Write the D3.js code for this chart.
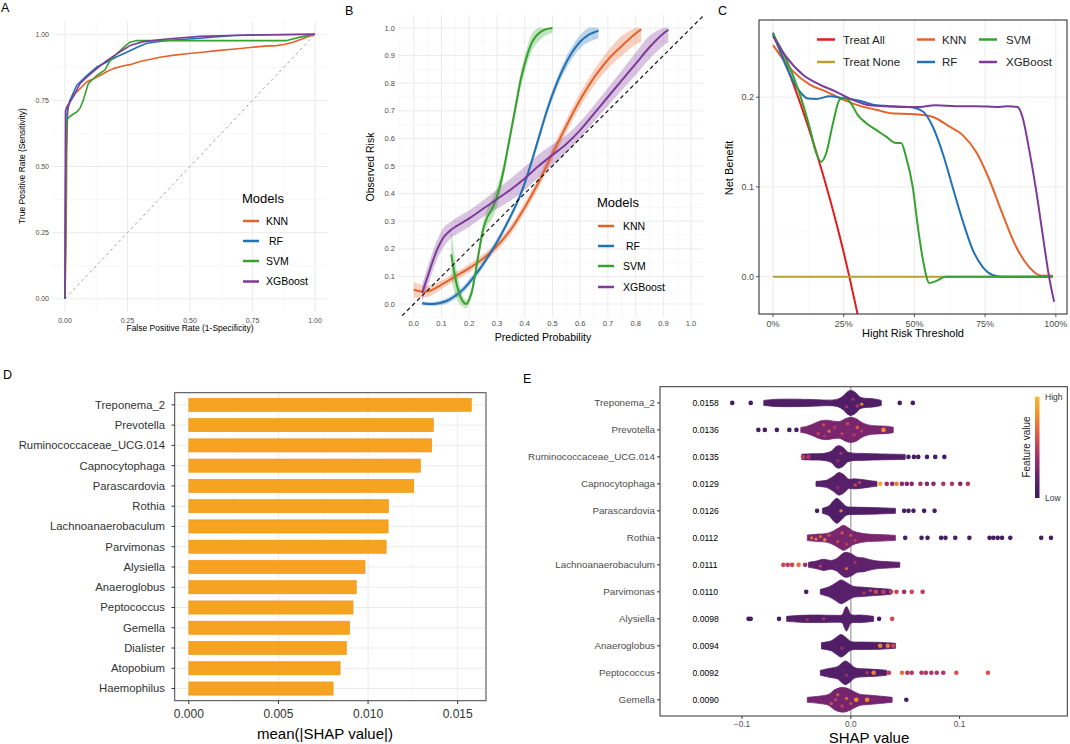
<!DOCTYPE html>
<html>
<head>
<meta charset="utf-8">
<title>Model comparison panels</title>
<script src="https://cdn.jsdelivr.net/npm/d3@7"></script>
<style>
  body { margin: 0; background: #fff; }
  svg { font-family: "Liberation Sans", Arial, sans-serif; }
</style>
</head>
<body>
<svg id="fig" width="1070" height="744"></svg>
<script>
// ---------- data ----------
var models = ["KNN", "RF", "SVM", "XGBoost"];
var modelColors = {KNN: "#E5632B", RF: "#2271B5", SVM: "#35A22E", XGBoost: "#7E3A9A"};

// A: ROC curves [fpr, tpr]
var rocKNN = [[0,0],[0.004,0.2],[0.007,0.55],[0.01,0.7],[0.015,0.73],[0.027,0.763],[0.045,0.78],[0.06,0.794],[0.087,0.82],[0.11,0.83],[0.14,0.844],[0.17,0.86],[0.193,0.87],[0.23,0.88],[0.26,0.885],[0.3,0.897],[0.38,0.913],[0.43,0.92],[0.487,0.926],[0.55,0.932],[0.607,0.938],[0.68,0.944],[0.74,0.95],[0.8,0.955],[0.847,0.957],[0.88,0.962],[0.913,0.97],[0.95,0.983],[1,1]];
var rocRF = [[0,0],[0.003,0.45],[0.006,0.62],[0.01,0.72],[0.02,0.75],[0.047,0.807],[0.087,0.844],[0.127,0.876],[0.167,0.895],[0.207,0.915],[0.247,0.932],[0.287,0.95],[0.327,0.966],[0.407,0.976],[0.54,0.985],[0.673,0.995],[0.8,0.998],[1,1]];
var rocSVM = [[0,0],[0.002,0.31],[0.004,0.63],[0.01,0.68],[0.02,0.69],[0.047,0.706],[0.06,0.72],[0.073,0.75],[0.093,0.813],[0.127,0.844],[0.16,0.865],[0.18,0.9],[0.207,0.926],[0.24,0.955],[0.26,0.97],[0.287,0.976],[0.6,0.976],[0.887,0.976],[0.94,0.989],[1,1]];
var rocXGB = [[0,0],[0.001,0.42],[0.002,0.71],[0.007,0.725],[0.033,0.763],[0.06,0.813],[0.087,0.838],[0.127,0.87],[0.167,0.9],[0.207,0.926],[0.26,0.957],[0.313,0.972],[0.407,0.982],[0.54,0.992],[0.74,0.997],[1,1]];

// B: calibration curves [predicted, observed, half band]
var calKNN = [[0.0,0.052,0.028],[0.05,0.045,0.02],[0.1,0.07,0.016],[0.15,0.1,0.015],[0.2,0.13,0.015],[0.25,0.165,0.015],[0.3,0.21,0.016],[0.35,0.27,0.017],[0.4,0.35,0.018],[0.45,0.44,0.02],[0.5,0.545,0.021],[0.55,0.645,0.023],[0.6,0.74,0.025],[0.65,0.82,0.028],[0.7,0.885,0.032],[0.75,0.935,0.036],[0.8,0.98,0.04],[0.82,0.995,0.045]];
var calRF = [[0.03,0.003,0.008],[0.06,0.0,0.006],[0.09,0.003,0.008],[0.12,0.012,0.01],[0.15,0.03,0.012],[0.18,0.055,0.012],[0.21,0.09,0.012],[0.24,0.13,0.012],[0.27,0.175,0.012],[0.3,0.225,0.012],[0.33,0.28,0.012],[0.36,0.34,0.012],[0.39,0.41,0.013],[0.42,0.5,0.014],[0.45,0.6,0.015],[0.48,0.7,0.016],[0.51,0.785,0.018],[0.54,0.855,0.02],[0.57,0.91,0.022],[0.6,0.95,0.024],[0.63,0.975,0.026],[0.666,0.99,0.028]];
var calSVM = [[0.135,0.18,0.09],[0.145,0.12,0.07],[0.155,0.07,0.05],[0.165,0.035,0.035],[0.175,0.012,0.02],[0.189,0.0,0.015],[0.205,0.03,0.015],[0.22,0.1,0.02],[0.235,0.19,0.022],[0.25,0.27,0.025],[0.265,0.315,0.03],[0.28,0.34,0.035],[0.295,0.375,0.035],[0.31,0.425,0.03],[0.325,0.49,0.025],[0.34,0.57,0.022],[0.355,0.65,0.022],[0.37,0.73,0.025],[0.385,0.81,0.028],[0.4,0.87,0.03],[0.415,0.92,0.03],[0.43,0.955,0.03],[0.45,0.98,0.028],[0.475,0.995,0.022],[0.5,1.0,0.018]];
var calXGB = [[0.03,0.04,0.03],[0.05,0.1,0.035],[0.07,0.16,0.035],[0.09,0.21,0.035],[0.11,0.245,0.035],[0.13,0.265,0.03],[0.15,0.28,0.03],[0.2,0.31,0.03],[0.25,0.345,0.03],[0.3,0.38,0.035],[0.35,0.415,0.04],[0.4,0.455,0.042],[0.45,0.5,0.042],[0.5,0.54,0.038],[0.55,0.58,0.032],[0.6,0.63,0.03],[0.65,0.69,0.03],[0.7,0.75,0.033],[0.75,0.81,0.036],[0.8,0.87,0.04],[0.85,0.93,0.042],[0.9,0.98,0.044],[0.918,0.993,0.045]];

// C: decision curves [threshold, net benefit]
var dcaTreatAll = [[0,0.27],[0.05,0.233],[0.1,0.19],[0.15,0.142],[0.2,0.088],[0.25,0.027],[0.27,0],[0.3,-0.043]];
var dcaTreatNone = [[0,0],[0.99,0]];
var dcaKNN = [[0,0.258],[0.07,0.229],[0.13,0.214],[0.19,0.206],[0.25,0.197],[0.31,0.19],[0.365,0.186],[0.42,0.182],[0.5,0.181],[0.565,0.178],[0.62,0.168],[0.67,0.158],[0.72,0.138],[0.765,0.108],[0.81,0.071],[0.86,0.033],[0.905,0.011],[0.95,0.001],[0.99,0.001]];
var dcaRF = [[0,0.272],[0.047,0.234],[0.082,0.212],[0.124,0.1985],[0.153,0.198],[0.2,0.201],[0.247,0.199],[0.306,0.196],[0.365,0.191],[0.424,0.19],[0.482,0.189],[0.53,0.184],[0.565,0.167],[0.6,0.1375],[0.635,0.1],[0.67,0.063],[0.706,0.03],[0.741,0.011],[0.776,0.002],[0.81,0],[0.99,0]];
var dcaSVM = [[0,0.27],[0.047,0.242],[0.094,0.204],[0.129,0.167],[0.153,0.1375],[0.171,0.128],[0.188,0.1375],[0.212,0.171],[0.235,0.197],[0.253,0.2],[0.276,0.193],[0.3,0.18],[0.33,0.171],[0.365,0.1635],[0.4,0.156],[0.435,0.149],[0.453,0.149],[0.47,0.134],[0.494,0.1],[0.512,0.056],[0.53,0.019],[0.553,-0.007],[0.576,-0.005],[0.61,0],[0.99,0]];
var dcaXGB = [[0,0.268],[0.047,0.245],[0.106,0.225],[0.165,0.214],[0.224,0.206],[0.282,0.197],[0.341,0.191],[0.4,0.19],[0.459,0.189],[0.506,0.189],[0.576,0.191],[0.647,0.19],[0.718,0.19],[0.8,0.189],[0.83,0.19],[0.865,0.189],[0.882,0.178],[0.906,0.141],[0.93,0.097],[0.953,0.048],[0.976,0.0],[0.994,-0.028]];

// D: mean |SHAP|
var shapFeatures = ["Treponema_2","Prevotella","Ruminococcaceae_UCG.014","Capnocytophaga","Parascardovia","Rothia","Lachnoanaerobaculum","Parvimonas","Alysiella","Anaeroglobus","Peptococcus","Gemella","Dialister","Atopobium","Haemophilus"];
var shapMeans = [0.01576,0.01364,0.01355,0.01292,0.01255,0.01114,0.01112,0.01101,0.00983,0.00934,0.00916,0.00897,0.00879,0.00844,0.00805];

// E: beeswarm summary, 12 features
var eFeatures = shapFeatures.slice(0, 12);
var eMeanLabels = ["0.0158","0.0136","0.0135","0.0129","0.0126","0.0112","0.0111","0.0110","0.0098","0.0094","0.0092","0.0090"];
// dense part of each swarm: [shap, relative density]
var eProfiles = [
  [[-0.080,0.2],[-0.070,0.28],[-0.055,0.3],[-0.040,0.28],[-0.030,0.25],[-0.020,0.22],[-0.012,0.3],[-0.007,0.55],[-0.003,0.9],[0.000,1.0],[0.004,0.85],[0.008,0.5],[0.012,0.38],[0.018,0.35],[0.024,0.28],[0.028,0.2]],
  [[-0.046,0.2],[-0.040,0.3],[-0.034,0.5],[-0.028,0.72],[-0.022,0.78],[-0.016,0.7],[-0.010,0.68],[-0.005,0.9],[0.000,1.0],[0.005,0.9],[0.010,0.6],[0.016,0.4],[0.024,0.32],[0.032,0.3],[0.039,0.22]],
  [[-0.045,0.22],[-0.035,0.25],[-0.025,0.28],[-0.018,0.45],[-0.014,0.8],[-0.011,0.9],[-0.007,0.75],[-0.003,0.4],[0.002,0.3],[0.010,0.28],[0.020,0.25],[0.035,0.22],[0.050,0.2]],
  [[-0.032,0.2],[-0.022,0.3],[-0.016,0.6],[-0.011,0.9],[-0.006,0.7],[-0.002,0.38],[0.003,0.4],[0.010,0.35],[0.018,0.25],[0.024,0.2]],
  [[-0.026,0.2],[-0.020,0.4],[-0.017,0.7],[-0.013,1.0],[-0.009,0.75],[-0.004,0.35],[0.002,0.3],[0.012,0.28],[0.025,0.25],[0.041,0.2]],
  [[-0.040,0.22],[-0.030,0.3],[-0.022,0.35],[-0.016,0.55],[-0.011,0.8],[-0.007,1.0],[-0.003,0.85],[0.002,0.55],[0.008,0.4],[0.016,0.3],[0.030,0.25],[0.041,0.2]],
  [[-0.039,0.2],[-0.032,0.3],[-0.025,0.45],[-0.018,0.35],[-0.013,0.5],[-0.009,0.8],[-0.005,1.0],[0.000,0.9],[0.006,0.6],[0.012,0.55],[0.016,0.45],[0.025,0.3],[0.035,0.25],[0.045,0.2]],
  [[-0.028,0.2],[-0.020,0.4],[-0.014,0.7],[-0.009,0.95],[-0.004,0.75],[0.002,0.45],[0.010,0.38],[0.021,0.3],[0.030,0.25],[0.037,0.2]],
  [[-0.059,0.2],[-0.045,0.28],[-0.030,0.3],[-0.015,0.28],[-0.008,0.32],[-0.006,0.7],[-0.004,0.98],[-0.002,0.7],[0.000,0.35],[0.010,0.3],[0.021,0.2]],
  [[-0.027,0.25],[-0.018,0.4],[-0.013,0.7],[-0.009,0.9],[-0.005,0.7],[0.000,0.35],[0.010,0.3],[0.025,0.28],[0.041,0.2]],
  [[-0.028,0.2],[-0.020,0.35],[-0.012,0.5],[-0.008,0.8],[-0.005,0.95],[-0.001,0.75],[0.004,0.4],[0.012,0.32],[0.022,0.28],[0.033,0.2]],
  [[-0.040,0.2],[-0.030,0.28],[-0.020,0.45],[-0.015,0.8],[-0.009,0.98],[-0.004,0.95],[0.002,0.7],[0.008,0.45],[0.016,0.38],[0.026,0.3],[0.038,0.2]]
];
// feature value of the dense part of each row
var eCoreValues = [0.1, 0.27, 0.12, 0.14, 0.1, 0.27, 0.17, 0.14, 0.12, 0.1, 0.12, 0.25];
// isolated points: [shap, feature value]
var eDots = [
  [[-0.109,0.05],[-0.092,0.05],[0.045,0.05],[0.057,0.05]],
  [[-0.085,0.05],[-0.079,0.05],[-0.068,0.05],[-0.0565,0.05],[-0.050,0.05],[0.030,0.8]],
  [[-0.044,0.5],[-0.039,0.45],[0.053,0.05],[0.058,0.05],[0.062,0.05],[0.070,0.05],[0.0776,0.05],[0.086,0.05]],
  [[0.027,0.9],[0.033,0.4],[0.038,0.35],[0.042,0.75],[0.047,0.35],[0.0515,0.3],[0.056,0.3],[0.064,0.4],[0.070,0.3],[0.076,0.3],[0.085,0.45],[0.093,0.45],[0.1006,0.3],[0.1076,0.45]],
  [[-0.031,0.05],[0.049,0.05],[0.053,0.05],[0.0576,0.05],[0.0674,0.05],[0.077,0.05]],
  [[0.050,0.05],[0.065,0.05],[0.0705,0.05],[0.083,0.05],[0.087,0.05],[0.096,0.05],[0.109,0.05],[0.1275,0.05],[0.131,0.05],[0.135,0.05],[0.139,0.05],[0.1466,0.05],[0.175,0.05],[0.184,0.05]],
  [[-0.062,0.55],[-0.058,0.5],[-0.054,0.55],[-0.048,0.7],[-0.042,0.4]],
  [[-0.041,0.05],[0.023,0.55],[0.030,0.5],[0.037,0.5],[0.042,0.55],[0.049,0.4],[0.056,0.55],[0.066,0.5]],
  [[-0.094,0.05],[-0.092,0.05],[-0.066,0.05],[0.026,0.05],[0.038,0.55]],
  [[0.027,0.75],[0.034,0.75],[0.039,0.55]],
  [[0.021,0.75],[0.035,0.5],[0.047,0.7],[0.052,0.45],[0.056,0.45],[0.065,0.45],[0.069,0.45],[0.074,0.45],[0.079,0.45],[0.085,0.45],[0.097,0.6],[0.126,0.6]],
  [[0.005,0.8],[0.015,0.8],[0.051,0.05]]
];
// coloured points inside the dense part: [shap, relative offset, feature value]
var eSpecks = [
  [[-0.004,0.3,0.45],[0.002,-0.3,0.45],[0.010,0.1,0.85],[0.006,0.25,0.5]],
  [[-0.030,0.3,0.55],[-0.025,-0.4,0.6],[-0.020,0.1,0.7],[-0.015,-0.2,0.5],[-0.008,0.3,0.55],[-0.003,-0.5,0.6],[0.003,0.4,0.5],[0.006,-0.2,0.7],[-0.024,0.5,0.45],[0.010,0.1,0.5]],
  [[-0.012,0.3,0.4],[-0.009,-0.3,0.45]],
  [[0.004,0.1,0.6],[0.008,-0.1,0.55],[-0.012,0.3,0.4]],
  [[-0.009,0.0,0.85]],
  [[-0.036,0,0.75],[-0.032,0.1,0.8],[-0.028,-0.1,0.7],[-0.024,0.15,0.85],[-0.020,-0.2,0.6],[-0.012,0.3,0.6],[-0.008,-0.4,0.65],[-0.004,0.5,0.55],[0.000,-0.2,0.6],[0.004,0.2,0.5]],
  [[-0.028,0.1,0.55],[-0.004,0.3,0.7],[0.004,-0.2,0.45]],
  [[0.012,0.1,0.5],[0.018,-0.1,0.55]],
  [[-0.025,0.0,0.45],[-0.040,0.05,0.4]],
  [[-0.008,0.2,0.4]],
  [[-0.004,0.2,0.4],[0.015,0.0,0.5]],
  [[-0.018,0.3,0.6],[-0.012,-0.4,0.65],[-0.008,0.5,0.55],[-0.004,-0.1,0.7],[0.000,0.3,0.6],[-0.014,0.0,0.55]]
];
</script>
<script>
var svg = d3.select("#fig");
var gridMajor = "#EBEBEB", gridMinor = "#F3F3F3", tickGrey = "#4D4D4D";

function clip(id, x0, y0, x1, y1) {
    svg.append("clipPath").attr("id", id)
      .append("rect").attr("x", x0).attr("y", y0).attr("width", x1 - x0).attr("height", y1 - y0);
}

// vertical/horizontal grid lines over a panel
function gridLines(g, x, y, xs, ys, color, w) {
    var xr = x.range(), yr = y.range();
    g.selectAll(null).data(xs).join("line")
        .attr("x1", d => x(d)).attr("x2", d => x(d))
        .attr("y1", yr[0]).attr("y2", yr[1])
        .attr("stroke", color).attr("stroke-width", w);
    g.selectAll(null).data(ys).join("line")
        .attr("y1", d => y(d)).attr("y2", d => y(d))
        .attr("x1", xr[0]).attr("x2", xr[1])
        .attr("stroke", color).attr("stroke-width", w);
}

function panelLabel(t, x, y) {
    svg.append("text").attr("x", x).attr("y", y).attr("font-size", 12.5).text(t);
}

function modelLegend(g, x, y, rows, textX) {
    g.append("text").attr("x", x).attr("y", y).attr("font-size", 13).text("Models");
    models.forEach(function(m, i) {
        g.append("line").attr("x1", x + 1).attr("x2", x + 17)
            .attr("y1", rows[i]).attr("y2", rows[i])
            .attr("stroke", modelColors[m]).attr("stroke-width", 2.5);
        g.append("text").attr("x", textX + (m == "RF" ? 3 : 0)).attr("y", rows[i]).attr("dy", "0.35em")
            .attr("font-size", 10.5).text(m);
    });
}

// ---------------- A : ROC ----------------
(function() {
    var x = d3.scaleLinear([-0.05, 1.05], [52.5, 327.5]);
    var y = d3.scaleLinear([-0.05, 1.05], [312, 21]);
    var g = svg.append("g");
    gridLines(g, x, y, [0.125, 0.375, 0.625, 0.875], [0.125, 0.375, 0.625, 0.875], gridMinor, 0.6);
    gridLines(g, x, y, [0, 0.25, 0.5, 0.75, 1], [0, 0.25, 0.5, 0.75, 1], gridMajor, 1);

    var ticks = [0, 0.25, 0.5, 0.75, 1], f = d3.format(".2f");
    g.selectAll(null).data(ticks).join("text")
        .attr("x", d => x(d)).attr("y", 323).attr("text-anchor", "middle")
        .attr("font-size", 7).attr("fill", tickGrey).text(f);
    g.selectAll(null).data(ticks).join("text")
        .attr("x", 49).attr("y", d => y(d)).attr("dy", "0.35em").attr("text-anchor", "end")
        .attr("font-size", 7).attr("fill", tickGrey).text(f);

    g.append("text").attr("transform", "translate(25,166) rotate(-90)").attr("text-anchor", "middle")
        .attr("font-size", 8.5).text("True Positive Rate (Sensitivity)");
    g.append("text").attr("x", 190).attr("y", 331).attr("text-anchor", "middle")
        .attr("font-size", 8.5).text("False Positive Rate (1-Specificity)");

    g.append("line").attr("x1", x(0)).attr("y1", y(0)).attr("x2", x(1)).attr("y2", y(1))
        .attr("stroke", "#A6A6A6").attr("stroke-width", 1).attr("stroke-dasharray", "3,3");

    var line = d3.line().x(d => x(d[0])).y(d => y(d[1]));
    [[rocKNN, "KNN"], [rocRF, "RF"], [rocSVM, "SVM"], [rocXGB, "XGBoost"]].forEach(function(s) {
        g.append("path").attr("d", line(s[0])).attr("fill", "none")
            .attr("stroke", modelColors[s[1]]).attr("stroke-width", 1.6).attr("stroke-linejoin", "round");
    });
    modelLegend(g, 242, 203, [221, 241, 261, 281.5], 266);
})();

// ---------------- B : calibration ----------------
(function() {
    var x = d3.scaleLinear([-0.057, 1.043], [398, 703]);
    var y = d3.scaleLinear([-0.047, 1.047], [317, 15]);
    var g = svg.append("g");
    clip("clipB", 398, 15, 703, 317);
    var minor = d3.range(0, 11).map(i => i / 10 - 0.05).concat([1.05]).filter(d => d > -0.057 && d < 1.043);
    var major = d3.range(0, 11).map(i => i / 10);
    gridLines(g, x, y, minor, minor.filter(d => d < 1.047), gridMinor, 0.6);
    gridLines(g, x, y, major, major, gridMajor, 1);

    var f = d3.format(".1f");
    g.selectAll(null).data(major).join("text")
        .attr("x", d => x(d)).attr("y", 326).attr("text-anchor", "middle")
        .attr("font-size", 7.5).attr("fill", tickGrey).text(f);
    g.selectAll(null).data(major).join("text")
        .attr("x", 395).attr("y", d => y(d)).attr("dy", "0.35em").attr("text-anchor", "end")
        .attr("font-size", 7.5).attr("fill", tickGrey).text(f);

    g.append("text").attr("transform", "translate(374,167) rotate(-90)").attr("text-anchor", "middle")
        .attr("font-size", 10.5).text("Observed Risk");
    g.append("text").attr("x", 543).attr("y", 341).attr("text-anchor", "middle")
        .attr("font-size", 10.5).text("Predicted Probability");

    var inner = g.append("g").attr("clip-path", "url(#clipB)");
    var area = d3.area().curve(d3.curveCatmullRom)
        .x(d => x(d[0])).y0(d => y(d[1] - d[2])).y1(d => y(Math.min(1, d[1] + d[2])));
    var line = d3.line().curve(d3.curveCatmullRom).x(d => x(d[0])).y(d => y(d[1]));
    var series = [[calKNN, "KNN"], [calRF, "RF"], [calSVM, "SVM"], [calXGB, "XGBoost"]];
    series.forEach(function(s) {
        inner.append("path").attr("d", area(s[0])).attr("fill", modelColors[s[1]]).attr("fill-opacity", 0.3);
    });
    series.forEach(function(s) {
        inner.append("path").attr("d", line(s[0])).attr("fill", "none")
            .attr("stroke", modelColors[s[1]]).attr("stroke-width", 2);
    });
    inner.append("line").attr("x1", x(-0.06)).attr("y1", y(-0.06)).attr("x2", x(1.06)).attr("y2", y(1.06))
        .attr("stroke", "#111").attr("stroke-width", 1.2).attr("stroke-dasharray", "4,3");

    modelLegend(g, 597, 207, [226, 246, 266, 287], 623);
})();

// ---------------- C : decision curves ----------------
(function() {
    var x = d3.scaleLinear([-0.0495, 1.0395], [759, 1067]);
    var y = d3.scaleLinear([-0.0416, 0.286], [314, 20]);
    var g = svg.append("g");
    clip("clipC", 759, 20, 1067, 314);
    gridLines(g, x, y, [0.125, 0.375, 0.625, 0.875], [0.05, 0.15, 0.25], gridMinor, 0.6);
    gridLines(g, x, y, [0, 0.25, 0.5, 0.75, 1], [0, 0.1, 0.2], gridMajor, 1);

    var xt = [0, 0.25, 0.5, 0.75, 1], yt = [0, 0.1, 0.2];
    g.selectAll(null).data(xt).join("line")
        .attr("x1", d => x(d)).attr("x2", d => x(d)).attr("y1", 314).attr("y2", 317)
        .attr("stroke", "#333").attr("stroke-width", 0.8);
    g.selectAll(null).data(yt).join("line")
        .attr("y1", d => y(d)).attr("y2", d => y(d)).attr("x1", 756).attr("x2", 759)
        .attr("stroke", "#333").attr("stroke-width", 0.8);
    g.selectAll(null).data(xt).join("text")
        .attr("x", d => x(d)).attr("y", 327).attr("text-anchor", "middle")
        .attr("font-size", 9).attr("fill", tickGrey).text(d3.format(".0%"));
    g.selectAll(null).data(yt).join("text")
        .attr("x", 754).attr("y", d => y(d)).attr("dy", "0.35em").attr("text-anchor", "end")
        .attr("font-size", 9).attr("fill", tickGrey).text(d3.format(".1f"));

    g.append("text").attr("transform", "translate(733,168) rotate(-90)").attr("text-anchor", "middle")
        .attr("font-size", 11).text("Net Benefit");
    g.append("text").attr("x", 913).attr("y", 337).attr("text-anchor", "middle")
        .attr("font-size", 11).text("Hight Risk Threshold");

    var inner = g.append("g").attr("clip-path", "url(#clipC)");
    var line = d3.line().curve(d3.curveMonotoneX).x(d => x(d[0])).y(d => y(d[1]));
    var curves = [[dcaTreatAll, "#E41A1C"], [dcaTreatNone, "#B8A032"],
        [dcaKNN, modelColors.KNN], [dcaRF, modelColors.RF], [dcaSVM, modelColors.SVM], [dcaXGB, modelColors.XGBoost]];
    curves.forEach(function(c) {
        inner.append("path").attr("d", line(c[0])).attr("fill", "none")
            .attr("stroke", c[1]).attr("stroke-width", 2);
    });
    g.append("rect").attr("x", 759).attr("y", 20).attr("width", 308).attr("height", 294)
        .attr("fill", "none").attr("stroke", "#222").attr("stroke-width", 1);

    var legendItems = [["Treat All", "#E41A1C", 817, 843, 39.5], ["Treat None", "#B8A032", 817, 843, 62],
        ["KNN", modelColors.KNN, 917, 942, 39.5], ["RF", modelColors.RF, 917, 942, 62],
        ["SVM", modelColors.SVM, 979, 1006, 39.5], ["XGBoost", modelColors.XGBoost, 979, 1006, 62]];
    legendItems.forEach(function(l) {
        g.append("line").attr("x1", l[2]).attr("x2", l[2] + 18).attr("y1", l[4]).attr("y2", l[4])
            .attr("stroke", l[1]).attr("stroke-width", 2.5);
        g.append("text").attr("x", l[3]).attr("y", l[4]).attr("dy", "0.35em")
            .attr("font-size", 11.5).attr("fill", "#222").text(l[0]);
    });
})();

// ---------------- D : mean |SHAP| bars ----------------
(function() {
    var x = d3.scaleLinear([-0.00079, 0.01658], [174.7, 486]);
    var y = d3.scalePoint(shapFeatures, [392.7, 700.7]).padding(0.6);
    var bh = y.step() * 0.65;
    var g = svg.append("g");
    var yl = d3.scaleLinear([0, 1], [392.7, 700.7]);
    gridLines(g, x, yl, [0.0025, 0.0075, 0.0125], [], gridMinor, 0.6);
    gridLines(g, x, yl, [0, 0.005, 0.01, 0.015], [], gridMajor, 1);
    g.selectAll(null).data(shapFeatures).join("line")
        .attr("x1", 174.7).attr("x2", 486).attr("y1", d => y(d)).attr("y2", d => y(d))
        .attr("stroke", gridMajor).attr("stroke-width", 1);

    g.selectAll(null).data(shapFeatures).join("rect")
        .attr("x", x(0)).attr("y", d => y(d) - bh / 2)
        .attr("width", (d, i) => x(shapMeans[i]) - x(0)).attr("height", bh)
        .attr("fill", "#F6A322").attr("stroke", "#EC9312").attr("stroke-width", 0.6);

    g.append("rect").attr("x", 174.7).attr("y", 392.7).attr("width", 311.3).attr("height", 308)
        .attr("fill", "none").attr("stroke", "#444").attr("stroke-width", 1);

    g.selectAll(null).data(shapFeatures).join("line")
        .attr("x1", 171.5).attr("x2", 174.7).attr("y1", d => y(d)).attr("y2", d => y(d))
        .attr("stroke", "#333").attr("stroke-width", 1);
    g.selectAll(null).data(shapFeatures).join("text")
        .attr("x", 165).attr("y", d => y(d)).attr("dy", "0.35em").attr("text-anchor", "end")
        .attr("font-size", 11.3).attr("fill", "#333").text(d => d);

    var xt = [0, 0.005, 0.01, 0.015];
    g.selectAll(null).data(xt).join("line")
        .attr("x1", d => x(d)).attr("x2", d => x(d)).attr("y1", 700.7).attr("y2", 704)
        .attr("stroke", "#333").attr("stroke-width", 1);
    g.selectAll(null).data(xt).join("text")
        .attr("x", d => x(d)).attr("y", 718).attr("text-anchor", "middle")
        .attr("font-size", 12).attr("fill", "#333").text(d3.format(".3f"));
    g.append("text").attr("x", 325).attr("y", 739).attr("text-anchor", "middle")
        .attr("font-size", 15).text("mean(|SHAP value|)");
})();

// ---------------- E : SHAP beeswarm ----------------
(function() {
    var x = d3.scaleLinear([-0.1754, 0.199], [660, 1067.3]);
    var y = d3.scalePoint(eFeatures, [386.7, 716]).padding(0.6);
    var h = d3.scaleLinear([0, 1], [0, 12.5]);
    var color = d3.scaleSequential(d3.interpolateRgbBasis(
        ["#3A1C5E", "#5C1F6E", "#8C2A70", "#BF3A60", "#E6623E", "#F49A2A", "#F8B62E"])).domain([0, 1]);
    var g = svg.append("g");
    clip("clipE", 660, 386.7, 1067.3, 716);

    g.append("line").attr("x1", x(0)).attr("x2", x(0)).attr("y1", 386.7).attr("y2", 716)
        .attr("stroke", "#A0A0A0").attr("stroke-width", 1.3);

    var inner = g.append("g").attr("clip-path", "url(#clipE)");
    var area = d3.area().curve(d3.curveCatmullRom).x(d => x(d[0]));
    eFeatures.forEach(function(f, i) {
        var cy = y(f);
        area.y0(d => cy - h(d[1])).y1(d => cy + h(d[1]));
        inner.append("path").attr("d", area(eProfiles[i]))
            .attr("fill", color(eCoreValues[i])).attr("stroke", color(eCoreValues[i]))
            .attr("stroke-width", 0.8).attr("stroke-linejoin", "round");
        inner.selectAll(null).data(eSpecks[i]).join("circle")
            .attr("cx", d => x(d[0])).attr("cy", d => cy + h(d[1]))
            .attr("r", 1.7).attr("fill", d => color(d[2])).attr("fill-opacity", 0.85);
        inner.selectAll(null).data(eDots[i]).join("circle")
            .attr("cx", d => x(d[0])).attr("cy", cy)
            .attr("r", 2.3).attr("fill", d => color(d[1]));
    });

    g.append("rect").attr("x", 660).attr("y", 386.7).attr("width", 407.3).attr("height", 329.3)
        .attr("fill", "none").attr("stroke", "#333").attr("stroke-width", 1);

    g.selectAll(null).data(eFeatures).join("line")
        .attr("x1", 657).attr("x2", 660).attr("y1", d => y(d)).attr("y2", d => y(d))
        .attr("stroke", "#333").attr("stroke-width", 1);
    g.selectAll(null).data(eFeatures).join("text")
        .attr("x", 655).attr("y", d => y(d)).attr("dy", "0.35em").attr("text-anchor", "end")
        .attr("font-size", 9.8).attr("fill", tickGrey).text(d => d);
    g.selectAll(null).data(eFeatures).join("text")
        .attr("x", 692.5).attr("y", d => y(d)).attr("dy", "0.35em")
        .attr("font-size", 8.6).attr("fill", "#000").text((d, i) => eMeanLabels[i]);

    var xt = [-0.1, 0, 0.1];
    g.selectAll(null).data(xt).join("line")
        .attr("x1", d => x(d)).attr("x2", d => x(d)).attr("y1", 716).attr("y2", 719)
        .attr("stroke", "#333").attr("stroke-width", 1);
    g.selectAll(null).data(xt).join("text")
        .attr("x", d => x(d)).attr("y", 726.5).attr("text-anchor", "middle")
        .attr("font-size", 8.3).attr("fill", tickGrey).text(d => d == 0 ? "0.0" : d3.format(".1f")(d).replace("-", "\u2212"));
    g.append("text").attr("x", 869).attr("y", 742.5).attr("text-anchor", "middle")
        .attr("font-size", 15).text("SHAP value");

    // colour bar
    var grad = svg.append("defs").append("linearGradient").attr("id", "fvGrad")
        .attr("x1", 0).attr("x2", 0).attr("y1", 1).attr("y2", 0);
    grad.selectAll("stop").data(d3.range(0, 1.01, 0.1)).join("stop")
        .attr("offset", d => d).attr("stop-color", d => color(d));
    g.append("rect").attr("x", 1035).attr("y", 396.7).attr("width", 4.5).attr("height", 101.3)
        .attr("fill", "url(#fvGrad)");
    g.append("text").attr("x", 1045).attr("y", 400).attr("font-size", 8.5).attr("fill", "#333").text("High");
    g.append("text").attr("x", 1045).attr("y", 501).attr("font-size", 8.5).attr("fill", "#333").text("Low");
    g.append("text").attr("transform", "translate(1030,447) rotate(-90)").attr("text-anchor", "middle")
        .attr("font-size", 10).attr("fill", "#222").text("Feature value");
})();

panelLabel("A", 1, 12);
panelLabel("B", 345, 15);
panelLabel("C", 718, 15);
panelLabel("D", 3, 379);
panelLabel("E", 523, 383);
</script>
</body>
</html>
